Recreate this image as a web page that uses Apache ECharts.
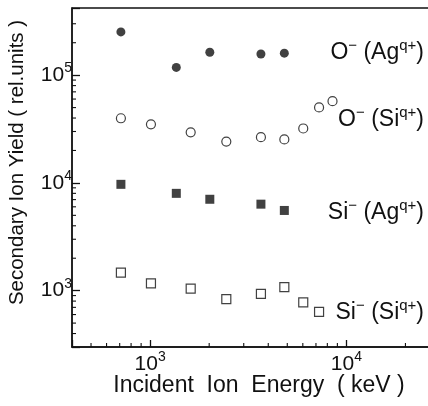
<!DOCTYPE html>
<html>
<head>
<meta charset="utf-8">
<script src="https://cdn.jsdelivr.net/npm/echarts@6/dist/echarts.min.js"></script>
<style>
  html, body { margin: 0; padding: 0; background: #fff; }
  #chart { width: 428px; height: 406px; }
</style>
</head>
<body>
<div id="chart"></div>
<script>
// Incident ion energy (keV) and secondary ion yield (rel. units)
const energyOAg = [710, 1360, 2015, 3670, 4830];
const yieldOAg = [252000, 118000, 163000, 157000, 160000];

const energyOSi = [710, 1010, 1610, 2445, 3670, 4830, 6030, 7260, 8500];
const yieldOSi = [39800, 35000, 29500, 24200, 26600, 25300, 32000, 50200, 57300];

const energySiAg = [710, 1360, 2015, 3670, 4830];
const yieldSiAg = [9700, 8000, 7050, 6350, 5550];

const energySiSi = [710, 1010, 1610, 2445, 3670, 4830, 6030, 7260];
const yieldSiSi = [1470, 1170, 1045, 835, 935, 1080, 780, 636];

// Axis ranges and minor tick values
const xMin = 400, xMax = 30000;
const yMin = 300, yMax = 420000;
const xMinorTicks = [500, 600, 700, 800, 900, 2000, 3000, 4000, 5000, 6000, 7000, 8000, 9000, 20000];
const yMinorTicks = [400, 500, 600, 700, 800, 900,
  2000, 3000, 4000, 5000, 6000, 7000, 8000, 9000,
  20000, 30000, 40000, 50000, 60000, 70000, 80000, 90000,
  200000, 300000];

const FONT = "'Liberation Sans', Arial, Helvetica, sans-serif";
const INK = '#111';

const supRich = {
  b: { fontFamily: FONT, fontSize: 21, color: INK },
  s: { fontFamily: FONT, fontSize: 14, color: INK, padding: [0, 0, 14, 0] }
};

function powLabel(v) {
  const e = Math.log10(v);
  const r = Math.round(e);
  if (Math.abs(e - r) > 1e-6) return '';
  return '{b|10}{s|' + r + '}';
}

const labelRich = {
  m: { fontFamily: FONT, fontSize: 23, color: INK },
  s: { fontFamily: FONT, fontSize: 15, color: INK, padding: [0, 0, 15, 0] }
};

function seriesLabel(text, y) {
  return {
    type: 'text', right: 4, top: y, z: 10,
    style: { text: text, rich: labelRich, fill: INK }
  };
}

const chart = echarts.init(document.getElementById('chart'), null, { renderer: 'canvas' });

chart.setOption({
  animation: false,
  backgroundColor: '#fff',
  grid: {
    left: 72, top: 8, bottom: 59, right: -12,
    outerBoundsMode: 'none',
    show: true, borderColor: INK, borderWidth: 1.3, backgroundColor: 'transparent'
  },
  xAxis: {
    type: 'log', logBase: 10, min: xMin, max: xMax,
    axisLine: { lineStyle: { color: INK, width: 1.5 } },
    axisTick: { inside: true, length: 7, lineStyle: { color: INK, width: 1.3 } },
    splitLine: { show: false },
    axisLabel: { formatter: powLabel, rich: supRich, margin: 3 }
  },
  yAxis: {
    type: 'log', logBase: 10, min: yMin, max: yMax,
    axisLine: { lineStyle: { color: INK, width: 1.5 } },
    axisTick: { inside: true, length: 8, lineStyle: { color: INK, width: 1.3 } },
    splitLine: { show: false },
    axisLabel: { formatter: powLabel, rich: supRich, margin: 0 }
  },
  graphic: [
    {
      type: 'text', x: 17, y: 162.5, rotation: Math.PI / 2,
      style: {
        text: 'Secondary Ion Yield ( rel.units )',
        font: '20.5px ' + FONT, fill: INK, align: 'center', verticalAlign: 'middle'
      }
    },
    {
      type: 'text', x: 259, y: 386,
      style: {
        text: 'Incident  Ion  Energy  ( keV )',
        font: '23px ' + FONT, fill: INK, align: 'center', verticalAlign: 'middle'
      }
    },
    seriesLabel('{m|O}{s|−}{m| (Ag}{s|q+}{m|)}', 38),
    seriesLabel('{m|O}{s|−}{m| (Si}{s|q+}{m|)}', 105),
    seriesLabel('{m|Si}{s|−}{m| (Ag}{s|q+}{m|)}', 198),
    seriesLabel('{m|Si}{s|−}{m| (Si}{s|q+}{m|)}', 298)
  ],
  series: [
    {
      name: 'O- (Ag)', type: 'scatter', symbol: 'circle', symbolSize: 9,
      itemStyle: { color: INK },
      data: energyOAg.map((e, i) => [e, yieldOAg[i]])
    },
    {
      name: 'O- (Si)', type: 'scatter', symbol: 'circle', symbolSize: 9,
      itemStyle: { color: '#fff', borderColor: INK, borderWidth: 1.2 },
      data: energyOSi.map((e, i) => [e, yieldOSi[i]])
    },
    {
      name: 'Si- (Ag)', type: 'scatter', symbol: 'rect', symbolSize: 9,
      itemStyle: { color: INK },
      data: energySiAg.map((e, i) => [e, yieldSiAg[i]])
    },
    {
      name: 'Si- (Si)', type: 'scatter', symbol: 'rect', symbolSize: 9,
      itemStyle: { color: '#fff', borderColor: INK, borderWidth: 1.2 },
      data: energySiSi.map((e, i) => [e, yieldSiSi[i]])
    },
    {
      // minor ticks along the energy axis
      type: 'custom', silent: true, clip: false,
      data: xMinorTicks.map(v => [v, yMin]),
      renderItem: function (params, api) {
        const p = api.coord([api.value(0), api.value(1)]);
        return {
          type: 'line',
          shape: { x1: p[0], y1: p[1], x2: p[0], y2: p[1] - 4 },
          style: { stroke: INK, lineWidth: 1.1 }
        };
      }
    },
    {
      // minor ticks along the yield axis
      type: 'custom', silent: true, clip: false,
      data: yMinorTicks.map(v => [xMin, v]),
      renderItem: function (params, api) {
        const p = api.coord([api.value(0), api.value(1)]);
        return {
          type: 'line',
          shape: { x1: p[0], y1: p[1], x2: p[0] + 4, y2: p[1] },
          style: { stroke: INK, lineWidth: 1.1 }
        };
      }
    }
  ]
});
</script>
</body>
</html>
